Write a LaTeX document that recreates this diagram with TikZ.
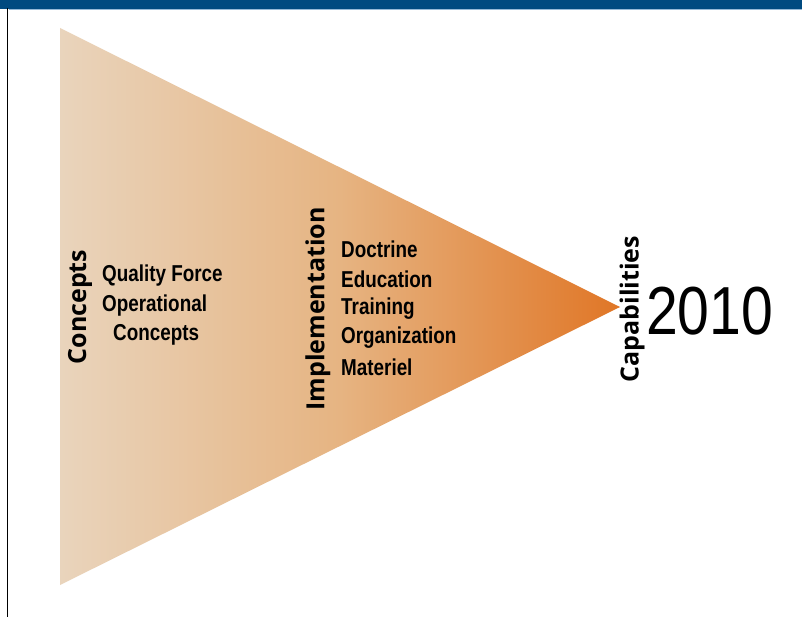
\documentclass[tikz,border=0pt]{standalone}
\usepackage{fontspec}
\setmainfont{Liberation Sans}
\newfontfamily\cond[FakeStretch=0.82]{Liberation Sans}
\newfontfamily\yrfont[FakeStretch=0.84]{Liberation Sans}
\newfontfamily\lab{Open Sans}
\definecolor{barblue}{RGB}{0,74,128}
\definecolor{barline}{RGB}{150,185,215}
\definecolor{tanL}{RGB}{233,212,188}
\definecolor{tanM}{RGB}{230,180,130}
\definecolor{orangeR}{RGB}{224,118,38}
\tikzset{
  vlab/.style={rotate=90, font=\lab\bfseries\fontsize{25}{28}\selectfont, inner sep=0pt},
  item/.style={anchor=west, font=\cond\bfseries\fontsize{23}{26}\selectfont, inner sep=0pt},
}
\begin{document}
\begin{tikzpicture}[x=1pt,y=-1pt]
\useasboundingbox (0,0) rectangle (802,617);
\fill[white] (0,0) rectangle (802,617);
\fill[barblue] (0,0) rectangle (802,9);
\fill[barline] (9,9) rectangle (802,10.5);
\draw[black, line width=1.8pt] (7.5,8) -- (7.5,617);
\coordinate (tl) at (60,28);
\coordinate (bl) at (60,585);
\coordinate (ap) at (620,307);
\shade[left color=tanL, right color=orangeR, middle color=tanM] (tl) -- (ap) -- (bl) -- cycle;
\node[vlab] (concepts) at (80,307) {Concepts};
\node[item] (qf) at (102,276) {Quality Force};
\node[item] (op) at (102,306) {Operational};
\node[item] (cc) at (113,335) {Concepts};
\node[vlab] (impl) at (318,309) {Implementation};
\node[item] (d1) at (341,249) {Doctrine};
\node[item] (d2) at (341,279) {Education};
\node[item] (d3) at (341,309) {Training};
\node[item] (d4) at (341,338) {Organization};
\node[item] (d5) at (341,367) {Materiel};
\node[vlab] (cap) at (632,309) {Capabilities};
\node[anchor=west, inner sep=0pt, font=\yrfont\fontsize{68}{74}\selectfont] (yr) at (646,311) {2010};
\end{tikzpicture}
\end{document}
